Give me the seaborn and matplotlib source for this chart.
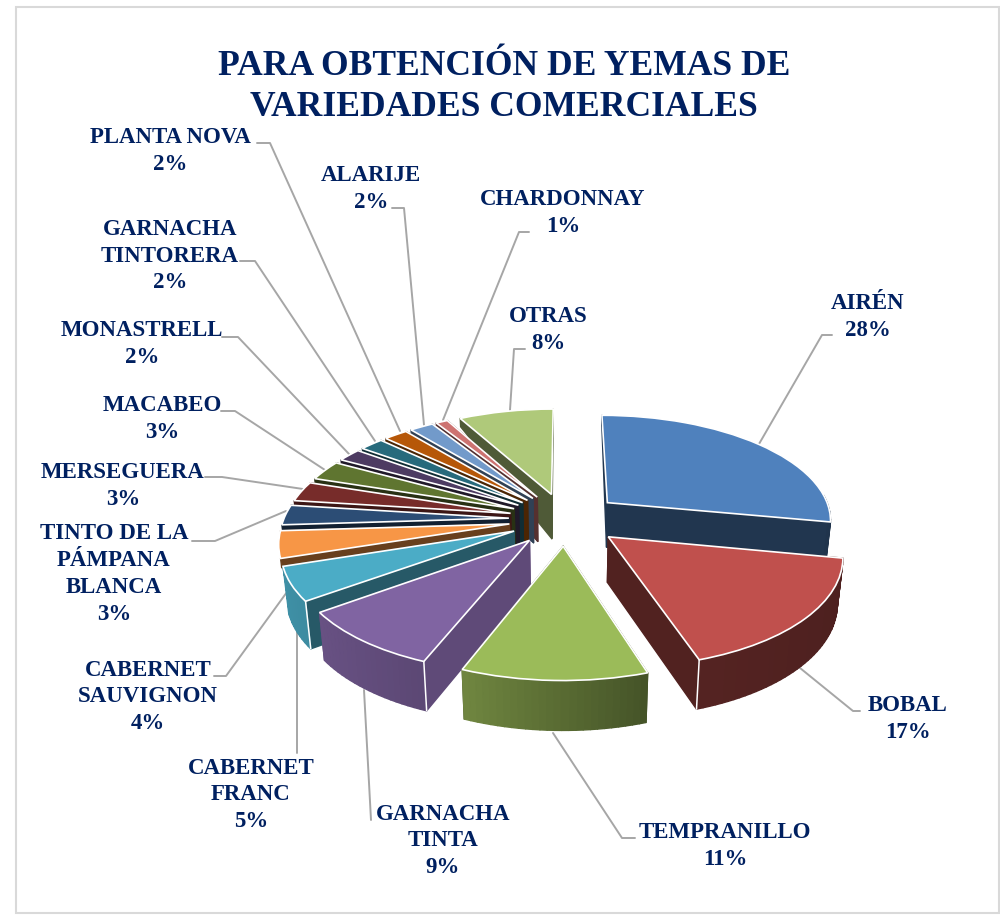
import numpy as np
import matplotlib
matplotlib.use("Agg")
import matplotlib.pyplot as plt
import seaborn as sns
from matplotlib.collections import PolyCollection
from matplotlib.patches import Rectangle
from matplotlib.transforms import Transform

variedades = ["AIRÉN", "BOBAL", "TEMPRANILLO", "GARNACHA\nTINTA", "CABERNET\nFRANC",
              "CABERNET\nSAUVIGNON", "TINTO DE LA\nPÁMPANA\nBLANCA", "MERSEGUERA",
              "MACABEO", "MONASTRELL", "GARNACHA\nTINTORERA", "PLANTA NOVA",
              "ALARIJE", "CHARDONNAY", "OTRAS"]
porcentajes = [28, 17, 11, 9, 5, 4, 3, 3, 3, 2, 2, 2, 2, 1, 8]
colores = ["#4f81bd", "#c0504d", "#9bbb59", "#8064a2", "#4bacc6", "#f79646", "#2c4d75",
           "#772c2a", "#5f7530", "#4d3b62", "#276a7c", "#b65708", "#729aca", "#cd7371",
           "#afc97a"]

# posicion de cada etiqueta y su linea guia, en pixeles
pos_etiquetas = [(867, 316), (907, 718), (724, 845), (442, 840), (250, 794), (147, 696),
                 (113, 573), (122, 485), (161, 418), (141, 343), (169, 255), (169, 150),
                 (370, 188), (562, 212), (547, 329)]
guias = [[(832, 335), (822, 335), (759, 444)], [(860, 711), (853, 711), (800, 668)],
         [(635, 838), (622, 838), (553, 733)], [(371, 820), (364, 690)],
         [(297, 753), (297, 632)], [(214, 676), (226, 676), (287, 592)],
         [(192, 541), (215, 541), (286, 511)], [(205, 477), (222, 477), (303, 489)],
         [(221, 411), (235, 411), (325, 470)], [(222, 337), (238, 337), (349, 454)],
         [(240, 261), (255, 261), (375, 441)], [(257, 143), (270, 143), (400, 431)],
         [(392, 208), (404, 208), (424, 425)], [(529, 232), (519, 232), (443, 420)],
         [(525, 349), (514, 349), (510, 410)]]
sombra_radial = [.42, .42, .42, .74, .52, .42, .42, .5, .42, .42, .42, .42, .42, .42, .45]

CX, CY, RX, RY, K, PROF = 565, 519, 225, 105, .15, 45
AZUL = "#002060"

sns.set_theme(style="white", font="Liberation Serif")
paleta = sns.color_palette(colores)


def proyectar(x, y, z=0.0):
    s = 1 / (1 + K * y)
    return CX + RX * x * s * (1 - .02 * z), CY - RY * y * s + PROF * z * np.sqrt(s)


class Perspectiva(Transform):
    input_dims = output_dims = 2
    is_separable = False

    def transform_non_affine(self, values):
        values = np.asarray(values)
        return np.column_stack(proyectar(values[:, 0], values[:, 1]))


def oscurecer(color, f):
    return tuple(c * f for c in color)


fig, ax = plt.subplots(figsize=(10, 9.18), dpi=100)
fig.subplots_adjust(0, 0, 1, 1)

wedges, _ = ax.pie(porcentajes, explode=[.25] * len(porcentajes), startangle=90,
                   counterclock=False, colors=paleta,
                   wedgeprops={"edgecolor": "white", "linewidth": 1.2})
ax.set_aspect("auto")
ax.set_xlim(0, 1000)
ax.set_ylim(918, 0)

persp = Perspectiva() + ax.transData
orden = sorted(range(len(wedges)),
               key=lambda i: -np.sin(np.radians((wedges[i].theta1 + wedges[i].theta2) / 2)))

for z, i in enumerate(orden):
    w = wedges[i]
    cx, cy = w.center
    t1, t2 = np.radians(w.theta1), np.radians(w.theta2)
    medio = (t1 + t2) / 2
    ang = np.linspace(t1, t2, max(int(np.degrees(t2 - t1) / 1.5), 2) + 1)
    xs, ys = cx + np.cos(ang), cy + np.sin(ang)

    caras = []
    # paredes radiales, color plano; las del fondo se afinan hacia el borde
    for t in (t1, t2):
        xe, ye = cx + np.cos(t), cy + np.sin(t)
        z_fin = .2 if np.sin(t) > -.5 and np.cos(t) <= .05 else 1
        cara = [proyectar(cx, cy), proyectar(xe, ye), proyectar(xe, ye, z_fin), proyectar(cx, cy, 1)]
        caras.append(((cy + ye) / 2, cara, oscurecer(paleta[i], sombra_radial[i])))
    # pared exterior con degradado horizontal
    if np.sin(medio) < -.4 or np.cos(medio) > 0:
        for a in range(len(ang) - 1):
            if np.sin(ang[a]) > .05:
                continue
            cara = [proyectar(xs[a], ys[a]), proyectar(xs[a + 1], ys[a + 1]),
                    proyectar(xs[a + 1], ys[a + 1], 1), proyectar(xs[a], ys[a], 1)]
            f = np.interp(np.cos(ang[a]), [-1, -.35, .3, 1], [.85, .71, .44, .4])
            caras.append(((ys[a] + ys[a + 1]) / 2, cara, oscurecer(paleta[i], f)))
    caras.sort(key=lambda c: -c[0])

    ax.add_collection(PolyCollection([c[1] for c in caras], facecolors=[c[2] for c in caras],
                                     edgecolors=[c[2] for c in caras], linewidths=1.0, zorder=2 + z))
    # arista blanca solo en las esquinas que dan al frente
    for t, signo in ((t1, 1), (t2, -1)):
        if signo * np.cos(t) > 0 and np.sin(t) < -.5:
            xe, ye = cx + np.cos(t), cy + np.sin(t)
            (xa, ya), (xb, yb) = proyectar(xe, ye), proyectar(xe, ye, 1)
            ax.plot([xa, xb], [ya, yb], color="white", lw=1.1, zorder=2.2 + z)
    w.set_transform(persp)
    w.set_zorder(2.5 + z)

for nombre, pct, (x, y), guia in zip(variedades, porcentajes, pos_etiquetas, guias):
    ax.plot(*zip(*guia), color="#a6a6a6", lw=1.4, zorder=1)
    ax.text(x + 1, y + 1, f"{nombre}\n{pct}%", ha="center", va="center", color=AZUL, fontsize=16.5,
            fontweight="bold", linespacing=1.36, zorder=40)

ax.text(504, 87, "PARA OBTENCIÓN DE YEMAS DE\nVARIEDADES COMERCIALES", ha="center", va="center",
        color=AZUL, fontsize=25.6, fontweight="bold", linespacing=1.3, zorder=40)
ax.add_patch(Rectangle((15.5, 6.5), 983, 906, fill=False, edgecolor="#d9d9d9", lw=1.5, zorder=0))

fig.savefig("out.png", dpi=100, facecolor="white")
